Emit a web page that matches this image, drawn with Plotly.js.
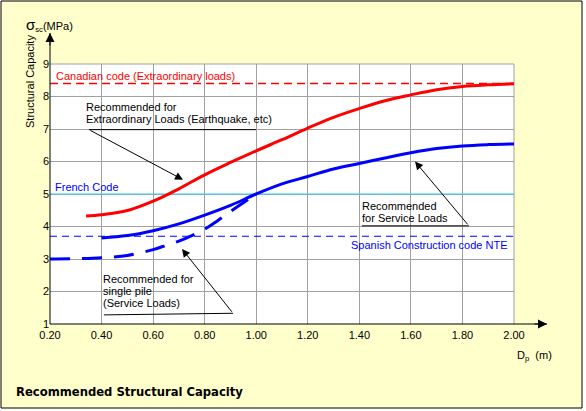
<!DOCTYPE html>
<html><head><meta charset="utf-8">
<script src="https://cdn.plot.ly/plotly-3.0.1.min.js"></script>
<style>html,body{margin:0;padding:0;background:#fff;} #chart{width:586px;height:411px;}</style>
</head><body><div id="chart"></div>
<script>
// ---- data ----
const extraX = [0.34, 0.4, 0.5, 0.6, 0.7, 0.8, 0.9, 1.0, 1.1, 1.2, 1.3, 1.4, 1.5, 1.6, 1.7, 1.8, 1.9, 2.0];
const extraY = [4.32, 4.36, 4.49, 4.78, 5.16, 5.59, 5.97, 6.33, 6.67, 7.03, 7.36, 7.63, 7.87, 8.05, 8.21, 8.31, 8.36, 8.39];
const serviceX = [0.4, 0.5, 0.6, 0.7, 0.8, 0.9, 1.0, 1.1, 1.2, 1.3, 1.4, 1.5, 1.6, 1.7, 1.8, 1.9, 2.0];
const serviceY = [3.65, 3.72, 3.87, 4.08, 4.35, 4.65, 5.0, 5.31, 5.54, 5.77, 5.94, 6.11, 6.27, 6.40, 6.48, 6.52, 6.54];
const pileX = [0.2, 0.3, 0.4, 0.5, 0.6, 0.65, 0.7, 0.75, 0.8, 0.85, 0.9, 0.95, 1.0];
const pileY = [3.0, 3.01, 3.04, 3.11, 3.29, 3.42, 3.55, 3.72, 3.92, 4.18, 4.46, 4.73, 5.0];
const codeRangeX = [0.2, 2.0];
const canadianCode = 8.4;
const frenchCode = 5.0;
const spanishCode = 3.7;
const xTickVals = [0.2, 0.4, 0.6, 0.8, 1.0, 1.2, 1.4, 1.6, 1.8, 2.0];
const xTickText = ['0.20', '0.40', '0.60', '0.80', '1.00', '1.20', '1.40', '1.60', '1.80', '2.00'];
const yTickVals = [1, 2, 3, 4, 5, 6, 7, 8, 9];
const yTickText = ['1', '2', '3', '4', '5', '6', '7', '8', '9'];

// ---- layout helpers (pixel -> paper) ----
const ML = 50, MT = 64, PW = 464, PH = 260;
const px = p => (p - ML) / PW;
const py = p => (MT + PH - p) / PH;
const FONT = 'Arial, "Liberation Sans", sans-serif';

const traces = [
  {x: codeRangeX, y: [frenchCode, frenchCode], mode: 'lines', line: {color: '#33CCFF', width: 1}, hoverinfo: 'skip'},
  {x: codeRangeX, y: [canadianCode, canadianCode], mode: 'lines', line: {color: 'rgb(255,0,0)', width: 1.6, dash: '8px,5px'}, hoverinfo: 'skip'},
  {x: codeRangeX, y: [spanishCode, spanishCode], mode: 'lines', line: {color: '#0000FF', width: 1, dash: '7px,5px'}, hoverinfo: 'skip'},
  {x: pileX, y: pileY, mode: 'lines', line: {color: '#0000FF', width: 3, dash: '20px,12px', shape: 'spline'}},
  {x: serviceX, y: serviceY, mode: 'lines', line: {color: '#0000FF', width: 3, shape: 'spline'}},
  {x: extraX, y: extraY, mode: 'lines', line: {color: '#FF0000', width: 3, shape: 'spline'}}
];

function txt(x, y, text, color, extra) {
  return Object.assign({x: x, y: y, xref: 'x', yref: 'y', text: text, showarrow: false,
    xanchor: 'left', yanchor: 'middle', borderpad: 0, borderwidth: 0,
    font: {family: FONT, size: 11, color: color || '#000'}}, extra || {});
}
function arrow(x, y, ax, ay) {
  return {x: x, y: y, ax: ax, ay: ay, xref: 'x', yref: 'y', axref: 'x', ayref: 'y', text: '',
    showarrow: true, arrowhead: 2, arrowsize: 1.6, arrowwidth: 1, arrowcolor: '#000'};
}

const annotations = [
  txt(0.223, 8.64, 'Canadian code (Extraordinary loads)', '#FF0000'),
  txt(0.338, 7.67, 'Recommended for'),
  txt(0.338, 7.32, 'Extraordinary Loads (Earthquake, etc)'),
  txt(0.220, 5.22, 'French Code', '#0000FF'),
  txt(1.410, 4.635, 'Recommended'),
  txt(1.410, 4.265, 'for Service Loads'),
  txt(1.977, 3.43, 'Spanish Construction code NTE', '#0000FF', {xanchor: 'right'}),
  txt(0.404, 2.39, 'Recommended for'),
  txt(0.404, 2.02, 'single pile'),
  txt(0.404, 1.65, '(Service Loads)'),
  arrow(0.716, 5.44, 0.351, 6.98),
  arrow(1.616, 6.0, 1.825, 4.02),
  arrow(0.712, 3.31, 0.910, 1.33),
  // axis arrowheads
  {x: px(547), y: 0, xref: 'paper', yref: 'paper', ax: -14, ay: 0, text: '', showarrow: true,
   arrowhead: 2, arrowsize: 1.8, arrowwidth: 1, arrowcolor: '#000'},
  {x: 0, y: py(33), xref: 'paper', yref: 'paper', ax: 0, ay: 14, text: '', showarrow: true,
   arrowhead: 2, arrowsize: 1.8, arrowwidth: 1, arrowcolor: '#000'},
  // axis titles and chart title
  {x: px(30), y: py(82), xref: 'paper', yref: 'paper', text: 'Structural Capacity', textangle: -90,
   showarrow: false, xanchor: 'center', yanchor: 'middle', borderpad: 0, font: {family: FONT, size: 11, color: '#000'}},
  {x: px(25), y: py(25), xref: 'paper', yref: 'paper', text: '<span style="font-size:15px">σ</span><sub>sc</sub>(MPa)',
   showarrow: false, xanchor: 'left', yanchor: 'middle', borderpad: 0, font: {family: FONT, size: 11, color: '#000'}},
  {x: px(516), y: py(356), xref: 'paper', yref: 'paper', text: 'D<sub>p</sub>  (m)',
   showarrow: false, xanchor: 'left', yanchor: 'middle', borderpad: 0, font: {family: FONT, size: 11, color: '#000'}},
  {x: px(15), y: py(392), xref: 'paper', yref: 'paper', text: '<b>Recommended Structural Capacity</b>',
   showarrow: false, xanchor: 'left', yanchor: 'middle', borderpad: 0,
   font: {family: '"DejaVu Sans", Verdana, sans-serif', size: 11.6, color: '#000'}}
];

const shapes = [
  {type: 'rect', xref: 'paper', yref: 'paper', x0: px(1), x1: px(582), y0: py(408), y1: py(1),
   fillcolor: '#FFFFCC', line: {color: '#000', width: 1}, layer: 'below'},
  {type: 'rect', xref: 'paper', yref: 'paper', x0: 0, x1: 1, y0: 0, y1: 1,
   fillcolor: '#FFFFFF', line: {width: 0}, layer: 'below'},
  {type: 'line', xref: 'paper', yref: 'paper', x0: 0, x1: 1, y0: 1, y1: 1, line: {color: '#A0A0A0', width: 1}, layer: 'below'},
  {type: 'line', xref: 'paper', yref: 'paper', x0: 1, x1: 1, y0: 0, y1: 1, line: {color: '#A0A0A0', width: 1}, layer: 'below'},
  // underlines of notes
  {type: 'line', xref: 'x', yref: 'y', x0: 0.351, x1: 0.999, y0: 6.98, y1: 6.98, line: {color: '#000', width: 1}},
  {type: 'line', xref: 'x', yref: 'y', x0: 1.410, x1: 1.825, y0: 4.02, y1: 4.02, line: {color: '#000', width: 1}},
  {type: 'line', xref: 'x', yref: 'y', x0: 0.409, x1: 0.910, y0: 1.28, y1: 1.33, line: {color: '#000', width: 1}},
  // axis lines
  {type: 'line', xref: 'paper', yref: 'paper', x0: 0, x1: px(547), y0: 0, y1: 0, line: {color: '#000', width: 1}},
  {type: 'line', xref: 'paper', yref: 'paper', x0: 0, x1: 0, y0: 0, y1: py(33), line: {color: '#000', width: 1}}
];

const layout = {
  width: 586, height: 411,
  margin: {l: ML, r: 586 - ML - PW, t: MT, b: 411 - MT - PH, pad: 0},
  paper_bgcolor: '#FFFFFF', plot_bgcolor: '#FFFFFF',
  showlegend: false,
  font: {family: FONT, size: 11, color: '#000'},
  xaxis: {range: [0.2, 2.0], tickvals: xTickVals, ticktext: xTickText, showgrid: true, gridcolor: '#A0A0A0',
    gridwidth: 1, zeroline: false, showline: false, ticks: '', fixedrange: true, ticklabelstandoff: 3,
    tickfont: {family: FONT, size: 11, color: '#000'}},
  yaxis: {range: [1, 9], tickvals: yTickVals, ticktext: yTickText, showgrid: true, gridcolor: '#A0A0A0',
    gridwidth: 1, zeroline: false, showline: false, ticks: '', fixedrange: true,
    tickfont: {family: FONT, size: 11, color: '#000'}},
  shapes: shapes,
  annotations: annotations
};

Plotly.newPlot('chart', traces, layout, {displayModeBar: false, staticPlot: true});
</script>
</body></html>
